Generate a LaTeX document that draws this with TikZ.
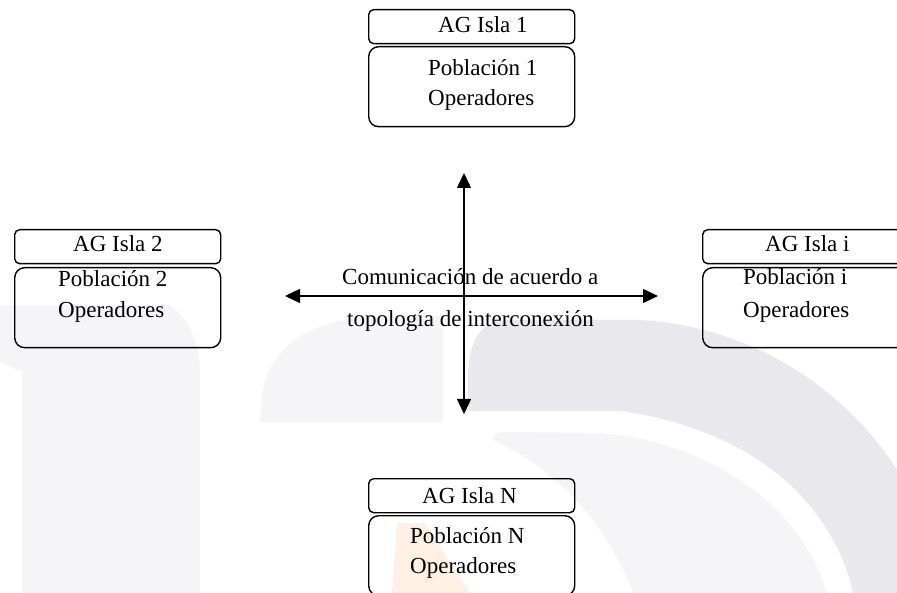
\documentclass[tikz,border=0pt]{standalone}
\usepackage{fontspec}
\setmainfont{Liberation Serif}
\usetikzlibrary{arrows.meta}
\definecolor{wmdark}{HTML}{E9E9ED}
\definecolor{wmlight}{HTML}{F5F5F7}
\definecolor{wmorange}{HTML}{FEF0E2}
\begin{document}
\begin{tikzpicture}[x=1pt,y=-1pt,
  islehead/.style={draw, line width=1.4pt, rounded corners=5pt, minimum width=206pt,
                   minimum height=34pt, anchor=north west, inner sep=0pt},
  islebody/.style={draw, line width=1.4pt, rounded corners=10pt, minimum width=206pt,
                   minimum height=80pt, anchor=north west, inner sep=0pt},
  lbl/.style={anchor=base west, inner sep=0pt, font=\fontsize{23}{28}\selectfont},
  link/.style={line width=1.4pt,
               {Triangle[length=15pt,width=14pt]}-{Triangle[length=15pt,width=14pt]}},
]
\useasboundingbox (0,0) rectangle (897,593);

% faint background emblem
\fill[wmlight] (0,305) -- (170,305) .. controls (190,320) and (200,345) .. (200,370)
  -- (200,593) -- (22,593) -- (22,372) -- (0,362) -- cycle;
\fill[wmlight] (260,422) -- (262,392) .. controls (272,340) and (320,318) .. (380,316)
  -- (443,316) -- (443,422) -- cycle;
\fill[wmdark] (468,380) .. controls (468,340) and (480,320) .. (510,320) -- (640,320)
  .. controls (740,325) and (840,380) .. (897,470) -- (897,593) -- (853,593)
  .. controls (835,510) and (760,430) .. (620,411) -- (468,411) -- cycle;
\fill[wmlight] (493,440) .. controls (493,433) and (497,432) .. (510,432) -- (600,433)
  .. controls (700,440) and (800,500) .. (827,593) -- (633,593)
  .. controls (610,530) and (560,470) .. (493,440) -- cycle;
\fill[wmorange] (397,523) -- (425,523) -- (470,593) -- (392,593) -- cycle;

% island 1 (top)
\node[islehead] (h1) at (368,9) {};
\node[islebody] (b1) at (368,46) {};
\node[lbl] (h1t) at (438,33) {AG Isla 1};
\node[lbl] (b1a) at (428,76) {Población 1};
\node[lbl] (b1b) at (428,106) {Operadores};

% island 2 (left)
\node[islehead] (h2) at (14,229) {};
\node[islebody] (b2) at (14,267) {};
\node[lbl] (h2t) at (73,252) {AG Isla 2};
\node[lbl] (b2a) at (58,287) {Población 2};
\node[lbl] (b2b) at (58,318) {Operadores};

% island i (right)
\node[islehead] (hi) at (702,229) {};
\node[islebody] (bi) at (702,267) {};
\node[lbl] (hit) at (765,252) {AG Isla i};
\node[lbl] (bia) at (743,285) {Población i};
\node[lbl] (bib) at (743,318) {Operadores};

% island N (bottom)
\node[islehead] (hn) at (368,478) {};
\node[islebody] (bn) at (368,515) {};
\node[lbl] (hnt) at (422,503) {AG Isla N};
\node[lbl] (bna) at (410,543) {Población N};
\node[lbl] (bnb) at (410,573) {Operadores};

% communication cross
\coordinate (vtop) at (464,173);
\coordinate (vbot) at (464,414);
\coordinate (hleft) at (285,296);
\coordinate (hright) at (658,296);
\draw[link] (vtop) -- (vbot);
\draw[link] (hleft) -- (hright);
\node[lbl] (c1) at (342,285) {Comunicación de acuerdo a};
\node[lbl] (c2) at (347,327) {topología de interconexión};
\end{tikzpicture}
\end{document}
